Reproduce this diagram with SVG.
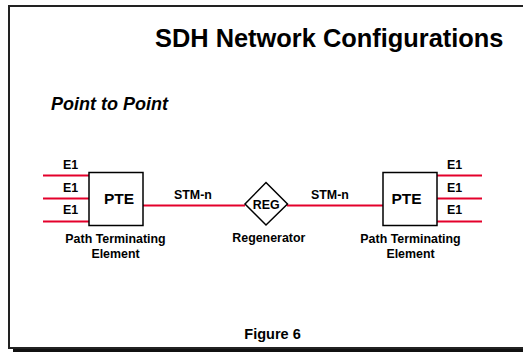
<svg xmlns="http://www.w3.org/2000/svg" width="523" height="353" viewBox="0 0 523 353">
  <style>
    text { font-family: "Liberation Sans", Arial, sans-serif; font-weight: bold; fill: #000; }
    .title { font-size: 25.4px; }
    .sub { font-size: 18px; font-style: italic; }
    .lbl { font-size: 12.4px; }
    .pte { font-size: 15.5px; }
    .cap { font-size: 12.4px; text-anchor: middle; }
    .fig { font-size: 14.5px; text-anchor: middle; }
    .node { fill: #fff; stroke: #000; stroke-width: 1.5; }
    .link { stroke: #e4002b; stroke-width: 2; fill: none; }
  </style>

  <rect width="523" height="353" fill="#fff"/>

  <!-- page frame with drop shadow -->
  <rect x="13" y="349" width="512" height="3" fill="#111"/>
  <rect x="9" y="6" width="520" height="342" fill="#fff" stroke="#222" stroke-width="2"/>

  <text class="title" x="155" y="47">SDH Network Configurations</text>
  <text class="sub" x="51" y="110">Point to Point</text>

  <!-- connectors -->
  <g id="connectors">
    <line class="link" x1="43" y1="175.5" x2="89" y2="175.5"/>
    <line class="link" x1="43" y1="198.5" x2="89" y2="198.5"/>
    <line class="link" x1="43" y1="221.5" x2="89" y2="221.5"/>
    <line class="link" x1="143" y1="205.5" x2="245" y2="205.5"/>
    <line class="link" x1="287" y1="205.5" x2="383" y2="205.5"/>
    <line class="link" x1="437" y1="175.5" x2="482" y2="175.5"/>
    <line class="link" x1="437" y1="198.5" x2="482" y2="198.5"/>
    <line class="link" x1="437" y1="221.5" x2="482" y2="221.5"/>
    <text class="lbl" x="63" y="169">E1</text>
    <text class="lbl" x="63" y="192">E1</text>
    <text class="lbl" x="63" y="214">E1</text>
    <text class="lbl" x="174" y="199">STM-n</text>
    <text class="lbl" x="311" y="199">STM-n</text>
    <text class="lbl" x="447" y="169">E1</text>
    <text class="lbl" x="447" y="192">E1</text>
    <text class="lbl" x="447" y="214">E1</text>
  </g>

  <g id="pte-left">
    <rect class="node" x="89" y="172.5" width="54" height="53"/>
    <text class="pte" x="104" y="203.5">PTE</text>
    <text class="cap" x="115.5" y="243">Path Terminating</text>
    <text class="cap" x="115.5" y="258">Element</text>
  </g>

  <g id="regenerator">
    <polygon class="node" points="266,182.5 287.5,204 266,225 245,204"/>
    <text class="lbl" x="266.3" y="208.5" text-anchor="middle">REG</text>
    <text class="cap" x="268.8" y="242">Regenerator</text>
  </g>

  <g id="pte-right">
    <rect class="node" x="383" y="172.5" width="54" height="53"/>
    <text class="pte" x="391.5" y="203.5">PTE</text>
    <text class="cap" x="410.5" y="243">Path Terminating</text>
    <text class="cap" x="410.5" y="258">Element</text>
  </g>

  <text class="fig" x="272.5" y="339">Figure 6</text>
</svg>
